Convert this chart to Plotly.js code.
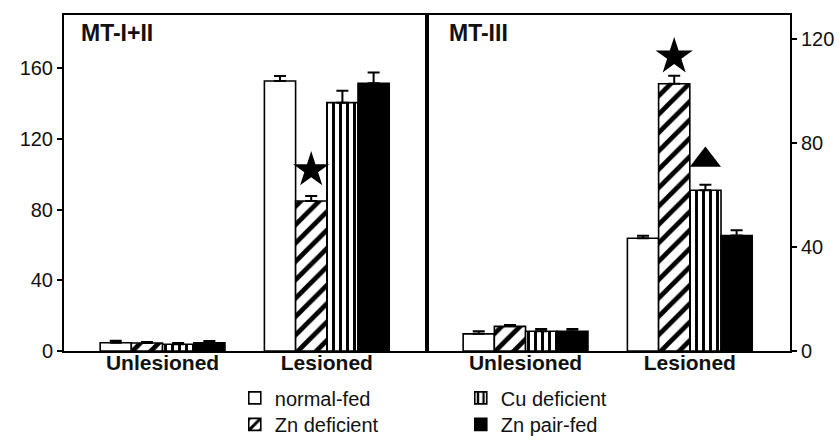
<!DOCTYPE html>
<html>
<head>
<meta charset="utf-8">
<script src="https://cdn.plot.ly/plotly-3.0.1.min.js"></script>
<style>html,body{margin:0;padding:0;background:#fff}#chart{width:840px;height:441px}</style>
</head>
<body>
<div id="chart"></div>
<script>
// ---- data ----
const categories = ['Unlesioned', 'Lesioned'];
const groups = ['normal-fed', 'Zn deficient', 'Cu deficient', 'Zn pair-fed'];
const legendRow = ['legend', 'legend2', 'legend', 'legend2'];

// MT-I+II (left panel)
const mt12_normal = [4.7, 152.8];
const mt12_zndef  = [4.5, 84.9];
const mt12_cudef  = [3.8, 140.5];
const mt12_pair   = [4.7, 151.5];
const mt12_normal_err = [1.1, 2.8];
const mt12_zndef_err  = [0.6, 2.8];
const mt12_cudef_err  = [0.7, 6.8];
const mt12_pair_err   = [1.0, 6.0];

// MT-III (right panel)
const mt3_normal = [6.6, 43.4];
const mt3_zndef  = [9.5, 102.9];
const mt3_cudef  = [7.6, 61.9];
const mt3_pair   = [7.6, 44.5];
const mt3_normal_err = [1.0, 1.0];
const mt3_zndef_err  = [0.5, 3.1];
const mt3_cudef_err  = [0.9, 2.1];
const mt3_pair_err   = [0.9, 2.0];

// significance markers: [category index, series index, y]
const mt12_stars = [[1, 1, 102.4]];
const mt3_stars = [[1, 1, 113.4]];
const mt3_triangles = [[1, 2, 73.6]];

const yTicksLeft = [0, 40, 80, 120, 160];
const yTicksRight = [0, 40, 80, 120];

// ---- styles ----
const FONT = 'Arial, "Liberation Sans", sans-serif';
const BARGAP = 0.24;
const styles = [
  {color: '#ffffff'},
  {color: '#ffffff', pattern: {shape: '/', fgcolor: '#000', bgcolor: '#fff', size: 13, solidity: 0.36, fillmode: 'replace'}},
  {color: '#ffffff', pattern: {shape: '|', fgcolor: '#000', bgcolor: '#fff', size: 7, solidity: 0.42, fillmode: 'replace'}},
  {color: '#000000'}
];

const xpos = categories.map((c, i) => i);
const traces = [];
function addPanel(series, errs, xa, ya, showLegend) {
  series.forEach((vals, i) => {
    const m = {color: styles[i].color, line: {color: '#000', width: 1.6}};
    if (styles[i].pattern) m.pattern = styles[i].pattern;
    traces.push({
      type: 'bar', x: xpos, y: vals, name: groups[i],
      xaxis: xa, yaxis: ya, marker: m,
      showlegend: showLegend, legend: legendRow[i],
      error_y: {type: 'data', array: errs[i], arrayminus: vals.map(() => 0), symmetric: false,
                color: '#000', thickness: 2, width: 6},
      hoverinfo: 'skip'
    });
  });
}
addPanel([mt12_normal, mt12_zndef, mt12_cudef, mt12_pair],
         [mt12_normal_err, mt12_zndef_err, mt12_cudef_err, mt12_pair_err], 'x', 'y', true);
addPanel([mt3_normal, mt3_zndef, mt3_cudef, mt3_pair],
         [mt3_normal_err, mt3_zndef_err, mt3_cudef_err, mt3_pair_err], 'x2', 'y2', false);

const w = (1 - BARGAP) / groups.length;
function barX(ci, si) { return xpos[ci] - (1 - BARGAP) / 2 + (si + 0.5) * w; }
function addMarks(list, symbol, size, xa, ya) {
  traces.push({
    type: 'scatter', mode: 'markers', xaxis: xa, yaxis: ya, showlegend: false,
    x: list.map(d => barX(d[0], d[1])), y: list.map(d => d[2]),
    marker: {symbol: symbol, size: size, color: '#000', line: {width: 0}}, hoverinfo: 'skip'
  });
}
addMarks(mt12_stars, 'star', 27, 'x', 'y');
addMarks(mt3_stars, 'star', 28, 'x2', 'y2');
addMarks(mt3_triangles, 'triangle-up', 27, 'x2', 'y2');

const xBase = {
  range: [-0.6, 1.61], tickvals: xpos, ticktext: categories, ticks: '',
  ticklabelstandoff: -8,
  showline: true, mirror: true, linecolor: '#000', linewidth: 2,
  showgrid: false, zeroline: false, fixedrange: true,
  tickfont: {family: FONT, size: 21, color: '#111', weight: 'bold'}
};
const yBase = {
  ticks: 'outside', ticklen: 5, tickwidth: 2, tickcolor: '#000',
  showline: true, mirror: true, linecolor: '#000', linewidth: 2,
  showgrid: false, zeroline: false, fixedrange: true,
  tickfont: {family: FONT, size: 20, color: '#111'}
};
const legendBase = {
  orientation: 'h', xref: 'container', yref: 'container',
  x: 0.2795, xanchor: 'left', yanchor: 'top',
  entrywidth: 181, entrywidthmode: 'pixels', traceorder: 'normal',
  font: {family: FONT, size: 20, color: '#111'}, bgcolor: 'rgba(0,0,0,0)'
};

const layout = {
  width: 840, height: 441,
  margin: {l: 64, r: 50, t: 15, b: 90},
  paper_bgcolor: '#fff', plot_bgcolor: '#fff',
  font: {family: FONT, color: '#111'},
  barmode: 'group', bargap: BARGAP, bargroupgap: 0,
  xaxis: Object.assign({}, xBase, {domain: [0, 0.5], anchor: 'y'}),
  xaxis2: Object.assign({}, xBase, {domain: [0.5, 1], anchor: 'y2'}),
  yaxis: Object.assign({}, yBase, {range: [0, 190.1], tickvals: yTicksLeft, anchor: 'x', side: 'left'}),
  yaxis2: Object.assign({}, yBase, {range: [0, 129.4], tickvals: yTicksRight, anchor: 'x2', side: 'right'}),
  showlegend: true,
  legend: Object.assign({}, legendBase, {y: 0.142}),
  legend2: Object.assign({}, legendBase, {y: 0.082}),
  annotations: [
    {text: '<b>MT-I+II</b>', xref: 'x domain', yref: 'y domain', x: 0.04, y: 0.99,
     xanchor: 'left', yanchor: 'top', showarrow: false, font: {family: FONT, size: 23, color: '#111'}},
    {text: '<b>MT-III</b>', xref: 'x2 domain', yref: 'y2 domain', x: 0.055, y: 0.99,
     xanchor: 'left', yanchor: 'top', showarrow: false, font: {family: FONT, size: 23, color: '#111'}}
  ]
};

Plotly.newPlot('chart', traces, layout, {staticPlot: true, displayModeBar: false});
</script>
</body>
</html>
